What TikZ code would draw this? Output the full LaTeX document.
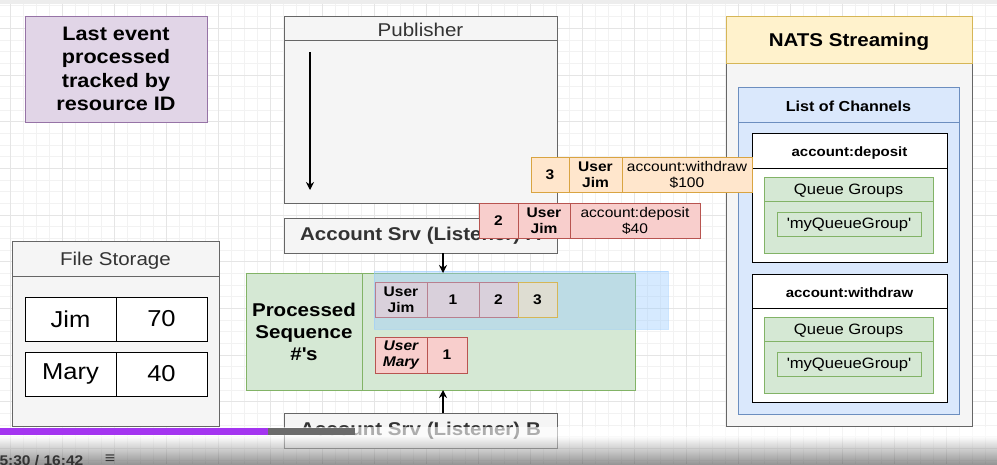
\documentclass[tikz,border=0pt]{standalone}
\usepackage{fontspec}
\setmainfont[FakeStretch=1.11]{Liberation Sans}
\usetikzlibrary{arrows.meta}
\definecolor{grayfill}{HTML}{F5F5F5}
\definecolor{grayline}{HTML}{666666}
\definecolor{purplefill}{HTML}{E1D5E7}
\definecolor{purpleline}{HTML}{9673A6}
\definecolor{greenfill}{HTML}{D5E8D4}
\definecolor{greenline}{HTML}{82B366}
\definecolor{bluefill}{HTML}{DAE8FC}
\definecolor{blueline}{HTML}{6C8EBF}
\definecolor{yellowfill}{HTML}{FFF2CC}
\definecolor{yellowline}{HTML}{D6B656}
\definecolor{orangefill}{HTML}{FFE6CC}
\definecolor{orangeline}{HTML}{D9A441}
\definecolor{redfill}{HTML}{F8CECC}
\definecolor{redline}{HTML}{B85450}
\definecolor{whitefill}{HTML}{FFFFFF}
\definecolor{whiteline}{HTML}{000000}
\definecolor{jimfill}{HTML}{D9D0DB}
\definecolor{jimline}{HTML}{B8808F}
\definecolor{lastfill}{HTML}{DEDDD2}
\definecolor{lastline}{HTML}{D6B656}
\definecolor{textgray}{HTML}{333333}
\definecolor{selblue}{HTML}{99CCFF}
\definecolor{progress}{HTML}{A435F0}
\newcommand{\pxfont}[2]{\fontsize{#1pt}{#2pt}\selectfont}
\begin{document}
\begin{tikzpicture}[x=1pt,y=-1pt,>={Stealth[length=8pt,width=8pt]},
    cell/.style={draw=#1line,fill=#1fill,line width=1pt,inner sep=0pt,outer sep=0pt,
      anchor=north west,align=center},
    title/.style={text=textgray,font=\pxfont{18.5}{22},yshift=-1.5pt},
    head/.style={font=\bfseries\pxfont{18.5}{22}},
    small/.style={font=\pxfont{14}{16}},
    smallbold/.style={font=\bfseries\pxfont{14}{16}},
    minorgrid/.style={draw=black!5,line width=.8pt},
    majorgrid/.style={draw=black!10,line width=.8pt}]
  \useasboundingbox (0,0) rectangle (997,464);
  %% grid
  \fill[white] (0,0) rectangle (997,464);
  \foreach \k in {0,...,77} \draw[minorgrid] ({-2.3+13*\k},4) -- ({-2.3+13*\k},464);
  \foreach \k in {0,...,39} \draw[minorgrid] (0,{5+11.67*\k}) -- (997,{5+11.67*\k});
  \foreach \k in {0,...,19} \draw[majorgrid] ({10.7+52*\k},4) -- ({10.7+52*\k},464);
  \foreach \k in {0,...,9} \draw[majorgrid] (0,{28.3+46.67*\k}) -- (997,{28.3+46.67*\k});
  \fill[black!7] (0,0) rectangle (997,4);

  %% note
  \node[cell=purple,minimum width=182,minimum height=106,font=\bfseries\pxfont{19.5}{23.3}]
    (note) at (25,16) {Last event\\processed\\tracked by\\resource ID};

  %% file storage
  \node[cell=gray,minimum width=207,minimum height=185] (files) at (12,241) {};
  \draw[grayline,line width=1pt] (12,276) -- (219,276);
  \node[title] (filestitle) at (115.5,259) {File Storage};
  \node[cell=white,minimum width=91,minimum height=44,font=\pxfont{23}{26}] (jimname) at (25,297) {Jim};
  \node[cell=white,minimum width=91,minimum height=44,font=\pxfont{23}{26}] (jimbal) at (116,297) {70};
  \node[cell=white,minimum width=91,minimum height=44,font=\pxfont{23}{26}] (maryname) at (25,352) {Mary};
  \node[cell=white,minimum width=91,minimum height=44,font=\pxfont{23}{26}] (marybal) at (116,352) {40};

  %% publisher
  \node[cell=gray,minimum width=273,minimum height=187] (pub) at (284,16) {};
  \draw[grayline,line width=1pt] (284,40) -- (557,40);
  \node[title] (pubtitle) at (420.5,28) {Publisher};
  \coordinate (pubtop) at (310,52);
  \coordinate (pubbot) at (310,190);
  \draw[->,line width=1.2pt] (pubtop) -- (pubbot);

  %% listeners
  \node[cell=gray,minimum width=273,minimum height=35,text=textgray,head] (lisa) at (284,218) {Account Srv (Listener) A};
  \node[cell=gray,minimum width=273,minimum height=35,text=textgray,head] (lisb) at (284,413) {Account Srv (Listener) B};

  %% processed sequence
  \node[cell=green,minimum width=389,minimum height=117] (seq) at (246,273) {};
  \draw[greenline,line width=1pt] (362,273) -- (362,390);
  \node[head,align=center] (seqtitle) at (304,332) {Processed\\Sequence\\\#\textquotesingle s};
  %% selection
  \fill[selblue,opacity=.4] (374,271) rectangle (668,329);
  \draw[selblue,opacity=.5] (374,271) rectangle (668,329);
  \node[cell=jim,minimum width=52,minimum height=35,smallbold] (jimuser) at (375,282) {User\\Jim};
  \node[cell=jim,minimum width=52,minimum height=35,smallbold] (jim1) at (427,282) {1};
  \node[cell=jim,minimum width=39,minimum height=35,smallbold] (jim2) at (479,282) {2};
  \node[cell=last,minimum width=39,minimum height=35,smallbold] (jim3) at (518,282) {3};
  \node[cell=red,minimum width=52,minimum height=36,font=\bfseries\itshape\pxfont{14}{16}] (maryuser) at (375,337) {User\\Mary};
  \node[cell=red,minimum width=40,minimum height=36,smallbold] (mary1) at (427,337) {1};
  \coordinate (seqina) at (443,273);
  \coordinate (seqinb) at (443,390);
  \draw[->,line width=1.2pt] (lisa.south -| seqina) -- (seqina);
  \draw[->,line width=1.2pt] (lisb.north -| seqinb) -- (seqinb);

  %% nats streaming
  \node[cell=gray,minimum width=246,minimum height=410] (nats) at (726,16) {};
  \node[cell=yellow,minimum width=246,minimum height=47,head,text depth=0pt] (natshead) at (726,16) {NATS Streaming};
  \node[cell=blue,minimum width=221,minimum height=327] (chans) at (738,87) {};
  \draw[blueline,line width=1pt] (738,122) -- (959,122);
  \node[font=\bfseries\pxfont{14.5}{17},yshift=-1.5pt] (chanstitle) at (848.5,105) {List of Channels};
  %% channel deposit
  \node[cell=white,minimum width=195,minimum height=129] (depo) at (752,133) {};
  \draw[line width=1pt] (752,168) -- (947,168);
  \node[font=\bfseries\pxfont{13.5}{16},yshift=-2pt] (depotitle) at (849.5,151) {account:deposit};
  \node[cell=green,minimum width=169,minimum height=76] (depoqg) at (764,177) {};
  \draw[greenline,line width=1pt] (764,201) -- (933,201);
  \node[font=\pxfont{15}{18},yshift=-2pt] (depoqgtitle) at (848.5,189) {Queue Groups};
  \node[cell=green,minimum width=144,minimum height=24,font=\pxfont{15}{18},text depth=1pt] (depoq) at (777,212) {\textquotesingle myQueueGroup\textquotesingle};
  %% channel withdraw
  \node[cell=white,minimum width=195,minimum height=128] (wdraw) at (752,274) {};
  \draw[line width=1pt] (752,308) -- (947,308);
  \node[font=\bfseries\pxfont{13.5}{16},yshift=-2pt] (wdrawtitle) at (849.5,291) {account:withdraw};
  \node[cell=green,minimum width=169,minimum height=76] (wdrawqg) at (764,317) {};
  \draw[greenline,line width=1pt] (764,341) -- (933,341);
  \node[font=\pxfont{15}{18},yshift=-2pt] (wdrawqgtitle) at (848.5,329) {Queue Groups};
  \node[cell=green,minimum width=144,minimum height=24,font=\pxfont{15}{18},text depth=1pt] (wdrawq) at (777,352) {\textquotesingle myQueueGroup\textquotesingle};

  %% events
  \node[cell=orange,minimum width=38,minimum height=35,smallbold] (ev3seq) at (531,157) {3};
  \node[cell=orange,minimum width=53,minimum height=35,smallbold] (ev3user) at (569,157) {User\\Jim};
  \node[cell=orange,minimum width=130,minimum height=35,small] (ev3data) at (622,157) {account:withdraw\\\$100};
  \node[cell=red,minimum width=39,minimum height=35,smallbold] (ev2seq) at (479,203) {2};
  \node[cell=red,minimum width=52,minimum height=35,smallbold] (ev2user) at (518,203) {User\\Jim};
  \node[cell=red,minimum width=130,minimum height=35,small] (ev2data) at (570,203) {account:deposit\\\$40};

  %% player bar
  \fill[white,opacity=.6] (0,427) rectangle (997,436);
  \fill[progress] (0,428) rectangle (268,435);
  \fill[black!58] (268,428) rectangle (355,435);
  \shade[top color=white,bottom color=black!75,opacity=.55] (0,436) rectangle (997,464);
  \node[anchor=west,text=textgray,font=\bfseries\pxfont{14}{16}] (clock) at (-4,461) {5:30 / 16:42};
  \node[text=textgray,font=\bfseries\pxfont{16}{18}] (menu) at (110,459) {≡};
\end{tikzpicture}
\end{document}
